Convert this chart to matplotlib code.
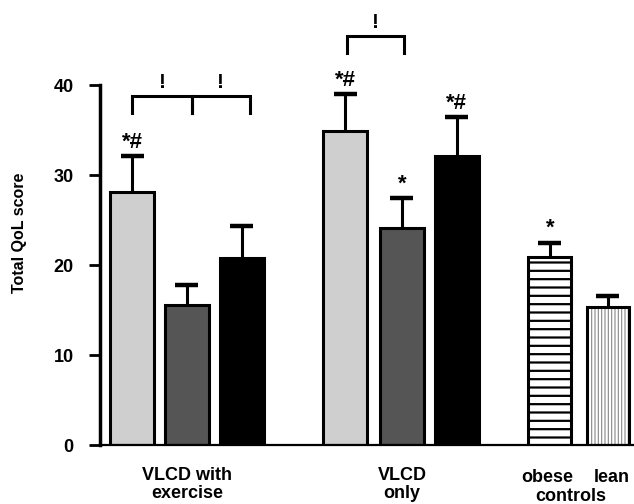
import matplotlib
matplotlib.use("Agg")
import matplotlib.pyplot as plt

# values
groups = ["VLCD with\nexercise", "VLCD\nonly"]
means = [28.1, 15.6, 20.8, 34.9, 24.1, 32.1, 20.9, 15.3]
errors = [4.0, 2.2, 3.5, 4.1, 3.3, 4.3, 1.6, 1.3]
marks = ["*#", "", "", "*#", "*", "*#", "*", ""]
colors = ["#cfcfcf", "#555555", "#000000", "#cfcfcf", "#555555", "#000000", "white", "white"]
yticks = [0, 10, 20, 30, 40]

plt.rcParams["font.family"] = ["Liberation Sans", "DejaVu Sans"]
plt.rcParams["font.weight"] = "bold"

# bar centres (layout)
pos = [0, 0.99, 1.99, 3.87, 4.9, 5.9, 7.59, 8.64]
widths = [0.8, 0.8, 0.8, 0.8, 0.8, 0.8, 0.78, 0.76]

fig = plt.figure(figsize=(6.34, 5.04), dpi=100)
ax = fig.add_axes([100 / 634, 59 / 504, 534 / 634, 360 / 504])

for i in range(6):
    ax.bar(pos[i], means[i], widths[i], color=colors[i], edgecolor="black",
           linewidth=2.2, zorder=2)

# obese controls: horizontal lines
with plt.rc_context({"hatch.linewidth": 1.6, "hatch.color": "black"}):
    ax.bar(pos[6], means[6], widths[6], color="white", edgecolor="black",
           hatch="--", linewidth=2.2, zorder=2)
# lean controls: thin grey vertical lines
with plt.rc_context({"hatch.linewidth": 0.8, "hatch.color": "#888888"}):
    ax.bar(pos[7], means[7], widths[7], color="white", edgecolor="#888888",
           hatch="|||||", linewidth=0, zorder=2)
ax.bar(pos[7], means[7], widths[7], color="none", edgecolor="black",
       linewidth=2.2, zorder=3)

# upper error bars only
tops = [m + e for m, e in zip(means, errors)]
ax.vlines(pos, means, tops, color="black", lw=2.2, zorder=1)
ax.hlines(tops, [p - 0.21 for p in pos], [p + 0.21 for p in pos],
          color="black", lw=3.2, zorder=1)

for x, t, s in zip(pos, tops, marks):
    if s:
        ax.annotate(s, (x, t), xytext=(0, 6), textcoords="offset points",
                    ha="center", va="baseline", fontsize=16, fontweight="bold")

# significance brackets
def bracket(x1, x2, y, leg):
    ax.plot([x1, x1, x2, x2], [y - leg, y, y, y - leg], color="black",
            lw=2.2, clip_on=False, solid_joinstyle="miter")
    ax.text((x1 + x2) / 2, y + 0.9, "!", ha="center", va="baseline",
            fontsize=15, fontweight="bold")

bracket(0.0, 1.08, 38.8, 1.9)
bracket(1.08, 2.14, 38.8, 1.9)
bracket(3.9, 4.94, 45.4, 1.8)

ax.set_xlim(-0.59, 9.12)
ax.set_ylim(0, 40)
ax.set_yticks(yticks)
ax.set_xticks([])
ax.tick_params(axis="y", direction="out", length=8, width=2, pad=11, labelsize=13)
for lbl in ax.get_yticklabels():
    lbl.set_fontweight("bold")
ax.set_ylabel("Total QoL score", fontsize=11.5, fontweight="bold")
ax.yaxis.set_label_coords(-0.137, 0.59)

ax.spines["top"].set_visible(False)
ax.spines["right"].set_visible(False)
ax.spines["left"].set_linewidth(2.5)
ax.spines["bottom"].set_linewidth(1.6)

# group labels under the axis
for x, g in zip([pos[1], pos[4]], groups):
    l1, l2 = g.split("\n")
    ax.text(x, -3.9, l1, ha="center", va="baseline", fontsize=13, fontweight="bold", clip_on=False)
    ax.text(x, -5.9, l2, ha="center", va="baseline", fontsize=13, fontweight="bold", clip_on=False)
ax.text(pos[6] - 0.05, -4.1, "obese", ha="center", va="baseline", fontsize=13, fontweight="bold")
ax.text(pos[7] + 0.07, -4.1, "lean", ha="center", va="baseline", fontsize=13, fontweight="bold")
ax.text((pos[6] + pos[7]) / 2 - 0.14, -6.2, "controls", ha="center", va="baseline",
        fontsize=13, fontweight="bold")

fig.savefig("out.png", dpi=100)
